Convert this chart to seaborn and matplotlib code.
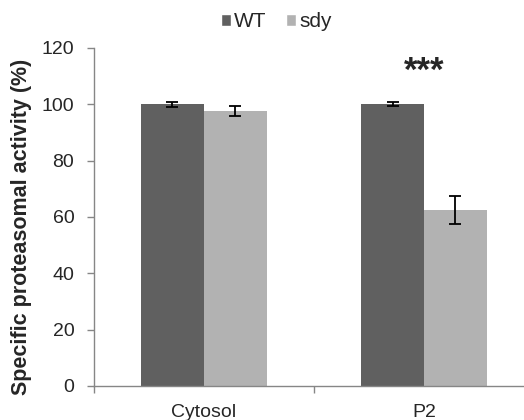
import matplotlib
matplotlib.use("Agg")
import matplotlib.pyplot as plt
import seaborn as sns
import pandas as pd
from matplotlib.patches import Patch

# data
fractions = ["Cytosol", "P2"]
genotypes = ["WT", "sdy"]
wt_activity = [100.0, 100.0]
sdy_activity = [97.6, 62.6]
wt_err = [0.9, 0.8]
sdy_err = [1.6, 5.0]
colors = ["#606060", "#b2b2b2"]

df = pd.DataFrame(
    {
        "Fraction": fractions * 2,
        "Genotype": ["WT"] * 2 + ["sdy"] * 2,
        "Activity": wt_activity + sdy_activity,
    }
)
errors = {"WT": wt_err, "sdy": sdy_err}

sns.set_theme(style="white")
plt.rcParams["font.family"] = ["Liberation Sans", "DejaVu Sans"]

fig = plt.figure(figsize=(5.24, 4.2), dpi=100)
ax = fig.add_axes([0.179, 0.081, 0.840, 0.805])

sns.barplot(
    data=df, x="Fraction", y="Activity", hue="Genotype",
    hue_order=genotypes, order=fractions, palette=colors,
    width=0.57, errorbar=None, legend=False, saturation=1,
    linewidth=0, ax=ax,
)

# error bars on top of each bar
for cont, g in zip(ax.containers, genotypes):
    for bar, e in zip(cont, errors[g]):
        xc = bar.get_x() + bar.get_width() / 2
        ax.errorbar(xc, bar.get_height(), yerr=e, fmt="none",
                    ecolor="black", elinewidth=1.3, capsize=4.5, capthick=1.3)

# significance mark above P2
p2 = ax.containers[0][1]
ax.text(p2.get_x() + p2.get_width(), 111.5, "***", ha="center", va="center",
        fontsize=25, fontweight="bold")

ax.set_ylim(0, 120)
ax.set_yticks(range(0, 121, 20))
ax.set_xlim(-0.5, 1.5)
ax.set_xticks([-0.5, 0.5, 1.5])
ax.set_xticklabels([])
ax.set_xticks([0, 1], minor=True)
ax.set_xticklabels(fractions, minor=True)
ax.tick_params(axis="x", which="minor", bottom=False, pad=9, labelsize=14)
ax.tick_params(axis="x", which="major", bottom=True, length=5, width=1,
               color="#868686", direction="out")
ax.tick_params(axis="y", left=True, length=5, width=1, color="#868686",
               direction="out", labelsize=14, pad=9)

for s in ["top", "right"]:
    ax.spines[s].set_visible(False)
for s in ["left", "bottom"]:
    ax.spines[s].set_color("#868686")
    ax.spines[s].set_linewidth(1.0)

ax.set_xlabel("")
ax.set_ylabel("Specific proteasomal activity (%)", fontsize=15.5, fontweight="bold")
ax.yaxis.set_label_coords(-0.14, 0.47)

handles = [Patch(facecolor=c, label=g) for c, g in zip(colors, genotypes)]
fig.legend(handles=handles, loc="center", bbox_to_anchor=(0.527, 0.948),
           ncol=2, frameon=False, fontsize=15, handlelength=0.5, handleheight=0.5,
           handletextpad=0.15, columnspacing=0.9, borderpad=0)

fig.savefig("out.png", dpi=100)
